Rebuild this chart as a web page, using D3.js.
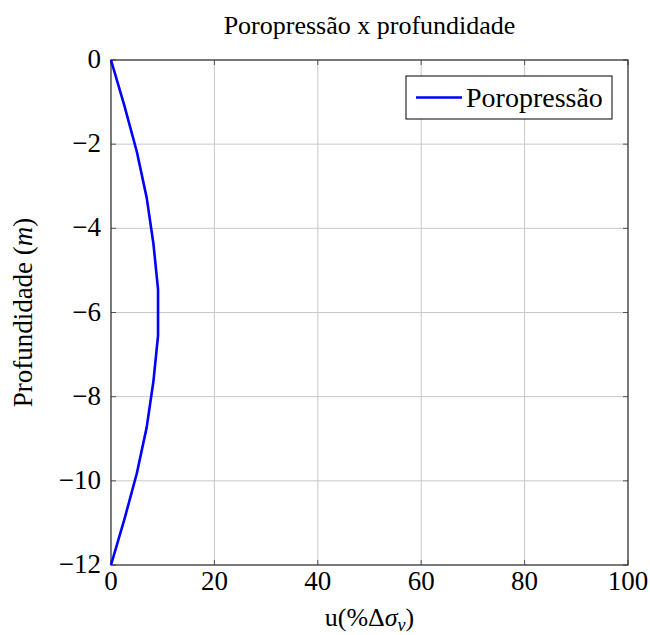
<!DOCTYPE html>
<html>
<head>
<meta charset="utf-8">
<script src="https://cdn.jsdelivr.net/npm/d3@7"></script>
<style>
  body { margin: 0; background: #fff; }
</style>
</head>
<body>
<div id="chart"></div>
<script>
// data
var depth = [0, -1.09, -2.18, -3.27, -4.36, -5.45, -6.55, -7.64, -8.73, -9.82, -10.91, -12];
var poro = [0, 2.6, 5.0, 6.9, 8.2, 9.1, 9.1, 8.2, 6.9, 5.0, 2.6, 0];
var xTicks = [0, 20, 40, 60, 80, 100];
var yTicks = [0, -2, -4, -6, -8, -10, -12];
var seriesName = "Poropressão";

var width = 650, height = 635;
var margin = {top: 60, right: 22, bottom: 70, left: 111};
var w = width - margin.left - margin.right,
    h = height - margin.top - margin.bottom;

var svg = d3.select("#chart").append("svg")
    .attr("width", width)
    .attr("height", height)
    .attr("font-family", "'Liberation Serif', 'Times New Roman', Times, serif");

var g = svg.append("g")
    .attr("transform", "translate(" + margin.left + "," + margin.top + ")");

var x = d3.scaleLinear().domain([0, 100]).range([0, w]);
var y = d3.scaleLinear().domain([-12, 0]).range([h, 0]);

// grid
g.append("g").selectAll("line").data(xTicks).enter().append("line")
    .attr("x1", function(d) { return x(d); }).attr("x2", function(d) { return x(d); })
    .attr("y1", 0).attr("y2", h)
    .attr("stroke", "#c8c8c8").attr("stroke-width", 1);
g.append("g").selectAll("line").data(yTicks).enter().append("line")
    .attr("y1", function(d) { return y(d); }).attr("y2", function(d) { return y(d); })
    .attr("x1", 0).attr("x2", w)
    .attr("stroke", "#c8c8c8").attr("stroke-width", 1);

// inner ticks (pgfplots style)
var tk = 5;
var ticksG = g.append("g").attr("stroke", "#555").attr("stroke-width", 1);
xTicks.forEach(function(d) {
  ticksG.append("line").attr("x1", x(d)).attr("x2", x(d)).attr("y1", h).attr("y2", h - tk);
  ticksG.append("line").attr("x1", x(d)).attr("x2", x(d)).attr("y1", 0).attr("y2", tk);
});
yTicks.forEach(function(d) {
  ticksG.append("line").attr("y1", y(d)).attr("y2", y(d)).attr("x1", 0).attr("x2", tk);
  ticksG.append("line").attr("y1", y(d)).attr("y2", y(d)).attr("x1", w).attr("x2", w - tk);
});

// frame
g.append("rect").attr("x", 0).attr("y", 0).attr("width", w).attr("height", h)
    .attr("fill", "none").attr("stroke", "#333").attr("stroke-width", 1.2);

// tick labels
g.append("g").selectAll("text").data(xTicks).enter().append("text")
    .attr("x", function(d) { return x(d); })
    .attr("y", h + 25)
    .attr("text-anchor", "middle")
    .style("font-size", "27px")
    .text(function(d) { return d; });
g.append("g").selectAll("text").data(yTicks).enter().append("text")
    .attr("x", -10)
    .attr("y", function(d) { return y(d) + 8; })
    .attr("text-anchor", "end")
    .style("font-size", "27px")
    .text(function(d) { return d < 0 ? "\u2212" + (-d) : d; });

// curve
var line = d3.line()
    .x(function(d, i) { return x(poro[i]); })
    .y(function(d) { return y(d); });
g.append("path").datum(depth)
    .attr("d", line)
    .attr("fill", "none")
    .attr("stroke", "#0000ff")
    .attr("stroke-width", 2.6)
    .attr("stroke-linejoin", "round");

// legend
var leg = g.append("g").attr("transform", "translate(" + (406 - margin.left) + "," + (76 - margin.top) + ")");
leg.append("rect").attr("width", 206).attr("height", 43)
    .attr("fill", "#fff").attr("stroke", "#000").attr("stroke-width", 1);
leg.append("line").attr("x1", 10).attr("x2", 56).attr("y1", 21.5).attr("y2", 21.5)
    .attr("stroke", "#0000ff").attr("stroke-width", 2.6);
leg.append("text").attr("x", 60).attr("y", 31)
    .style("font-size", "28px").text(seriesName);

// title
svg.append("text")
    .attr("x", margin.left + w / 2).attr("y", 34)
    .attr("text-anchor", "middle")
    .style("font-size", "26px")
    .text("Poropressão x profundidade");

// x label
var xl = svg.append("text")
    .attr("x", margin.left + w / 2).attr("y", 626)
    .attr("text-anchor", "middle")
    .style("font-size", "26px");
xl.append("tspan").text("u(%Δ");
xl.append("tspan").style("font-style", "italic").text("σ");
xl.append("tspan").attr("dy", 5).style("font-size", "18px").style("font-style", "italic").text("v");
xl.append("tspan").attr("dy", -5).text(")");

// y label
var yl = svg.append("text")
    .attr("transform", "translate(32," + (margin.top + h / 2) + ") rotate(-90)")
    .attr("text-anchor", "middle")
    .style("font-size", "27px");
yl.append("tspan").text("Profundidade (");
yl.append("tspan").style("font-style", "italic").text("m");
yl.append("tspan").text(")");
</script>
</body>
</html>
